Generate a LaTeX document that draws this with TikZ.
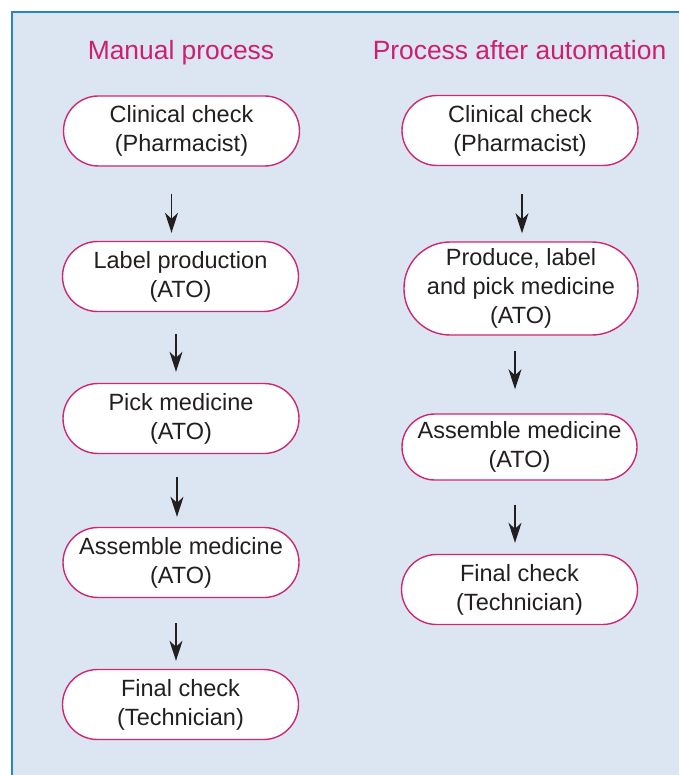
\documentclass[tikz,border=0pt]{standalone}
\usepackage{fontspec}
\setmainfont{Liberation Sans}
\usetikzlibrary{arrows.meta}
\definecolor{panelfill}{RGB}{219,230,242}
\definecolor{paneledge}{RGB}{38,134,200}
\definecolor{headmagenta}{RGB}{206,30,112}
\definecolor{boxrim}{RGB}{205,40,115}
\definecolor{inktext}{RGB}{35,31,32}

\begin{document}
\begin{tikzpicture}[x=1pt,y=1pt,line width=1.4pt,>=Stealth]
\tikzset{stage/.style={draw=boxrim,fill=white,text=inktext,align=center,
    minimum width=236pt,minimum height=70pt,inner sep=0pt,rounded corners=35pt,
    font=\fontsize{23.5}{29}\selectfont},
  heading/.style={text=headmagenta,anchor=base,font=\fontsize{26.4}{30}\selectfont},
  flow/.style={line width=1.3pt,draw=inktext,-{Stealth[length=20pt,width=13pt,inset=6pt]}}}
\useasboundingbox (0,0) rectangle (679,-775);
% ---------- panel ----------
\fill[panelfill] (12,-12) rectangle (679,-775);
\draw[paneledge,line width=2pt] (12,-775) -- (12,-12) -- (679,-12);
% ---------- manual process ----------
\node[heading] (mtitle) at (181,-60) {Manual process};
\node[stage] (m1) at (181.5,-131) {Clinical check\\(Pharmacist)};
\node[stage] (m2) at (180.5,-276.5) {Label production\\(ATO)};
\node[stage] (m3) at (181,-418.5) {Pick medicine\\(ATO)};
\node[stage] (m4) at (181,-562.5) {Assemble medicine\\(ATO)};
\node[stage] (m5) at (180.5,-704.5) {Final check\\(Technician)};
\draw[flow,shorten <=27pt,shorten >=8pt] ([xshift=-10pt]m1.south) -- ([xshift=-9pt]m2.north);
\draw[flow,shorten <=22pt,shorten >=11pt] ([xshift=-4.5pt]m2.south) -- ([xshift=-5pt]m3.north);
\draw[flow,shorten <=23pt,shorten >=10pt] ([xshift=-4pt]m3.south) -- ([xshift=-4pt]m4.north);
\draw[flow,shorten <=25pt,shorten >=8pt] ([xshift=-5pt]m4.south) -- ([xshift=-4.5pt]m5.north);
% ---------- process after automation ----------
\node[heading] (atitle) at (519.5,-60) {Process after automation};
\node[stage] (a1) at (520,-130.5) {Clinical check\\(Pharmacist)};
\node[stage,minimum height=93pt,rounded corners=46pt,minimum width=234pt]
  (a2) at (521,-288.5) {Produce, label\\and pick medicine\\(ATO)};
\node[stage,minimum height=66pt,rounded corners=33pt,minimum width=235pt]
  (a3) at (519.5,-447) {Assemble medicine\\(ATO)};
\node[stage] (a4) at (519.5,-589.5) {Final check\\(Technician)};
\draw[flow,shorten <=28pt,shorten >=8pt] ([xshift=2pt]a1.south) -- ([xshift=1pt]a2.north);
\draw[flow,shorten <=15pt,shorten >=24pt] ([xshift=-6pt]a2.south) -- ([xshift=-4.5pt]a3.north);
\draw[flow,shorten <=24pt,shorten >=11pt] ([xshift=-4.5pt]a3.south) -- ([xshift=-4.5pt]a4.north);
\end{tikzpicture}
\end{document}
